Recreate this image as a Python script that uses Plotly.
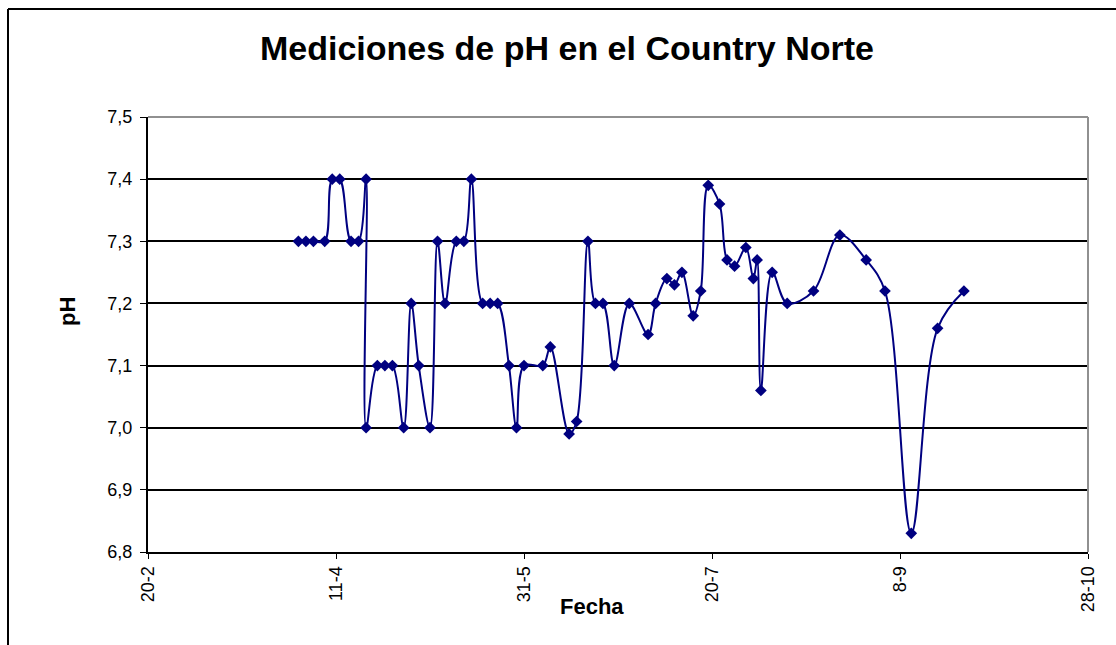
import plotly.graph_objects as go

# Measurement dates (2005 used only as a placeholder year) and pH values
fechas = [
    "2005-04-01", "2005-04-03", "2005-04-05", "2005-04-08", "2005-04-10", "2005-04-12",
    "2005-04-15", "2005-04-17", "2005-04-19", "2005-04-19", "2005-04-22", "2005-04-24",
    "2005-04-26", "2005-04-29", "2005-05-01", "2005-05-03", "2005-05-06", "2005-05-08",
    "2005-05-10", "2005-05-13", "2005-05-15", "2005-05-17", "2005-05-20", "2005-05-22",
    "2005-05-24", "2005-05-27", "2005-05-29", "2005-05-31", "2005-06-05", "2005-06-07",
    "2005-06-12", "2005-06-14", "2005-06-17", "2005-06-19", "2005-06-21", "2005-06-24",
    "2005-06-28", "2005-07-03", "2005-07-05", "2005-07-08", "2005-07-10", "2005-07-12",
    "2005-07-15", "2005-07-17", "2005-07-19", "2005-07-22", "2005-07-24", "2005-07-26",
    "2005-07-29", "2005-07-31", "2005-08-01", "2005-08-02", "2005-08-05", "2005-08-09",
    "2005-08-16", "2005-08-23", "2005-08-30", "2005-09-04", "2005-09-11", "2005-09-18",
    "2005-09-25",
]
ph = [
    7.30, 7.30, 7.30, 7.30, 7.40, 7.40,
    7.30, 7.30, 7.40, 7.00, 7.10, 7.10,
    7.10, 7.00, 7.20, 7.10, 7.00, 7.30,
    7.20, 7.30, 7.30, 7.40, 7.20, 7.20,
    7.20, 7.10, 7.00, 7.10, 7.10, 7.13,
    6.99, 7.01, 7.30, 7.20, 7.20, 7.10,
    7.20, 7.15, 7.20, 7.24, 7.23, 7.25,
    7.18, 7.22, 7.39, 7.36, 7.27, 7.26,
    7.29, 7.24, 7.27, 7.06, 7.25, 7.20,
    7.22, 7.31, 7.27, 7.22, 6.83, 7.16,
    7.22,
]

x_tick_vals = ["2005-02-20", "2005-04-11", "2005-05-31", "2005-07-20", "2005-09-08", "2005-10-28"]
x_tick_text = ["20-2", "11-4", "31-5", "20-7", "8-9", "28-10"]
y_tick_vals = [6.8, 6.9, 7.0, 7.1, 7.2, 7.3, 7.4, 7.5]
y_tick_text = ["6,8", "6,9", "7,0", "7,1", "7,2", "7,3", "7,4", "7,5"]

W, H = 1116, 645
L, R, T, B = 148, 28, 117, 93
pw, ph_ = W - L - R, H - T - B

font_family = "Liberation Sans, Arial, sans-serif"
navy = "#000080"

fig = go.Figure()
fig.add_trace(go.Scatter(
    x=fechas, y=ph, mode="lines+markers",
    line=dict(color=navy, width=2, shape="spline", smoothing=1.0),
    marker=dict(symbol="diamond", size=9, color=navy),
    showlegend=False,
))

def px_x(p):
    return (p - L) / pw

def px_y(p):
    return (H - B - p) / ph_

shapes = [
    dict(type="line", xref="paper", yref="paper", x0=0, x1=1, y0=1, y1=1,
         line=dict(color="#909090", width=2), layer="above"),
    dict(type="line", xref="paper", yref="paper", x0=1, x1=1, y0=0, y1=1,
         line=dict(color="#909090", width=2), layer="above"),
    dict(type="line", xref="paper", yref="paper", x0=px_x(8), x1=px_x(8),
         y0=px_y(9), y1=px_y(660), line=dict(color="black", width=2)),
    dict(type="line", xref="paper", yref="paper", x0=px_x(8), x1=px_x(1130),
         y0=px_y(9), y1=px_y(9), line=dict(color="black", width=2)),
]

annotations = [
    dict(text="<b>Fecha</b>", xref="paper", yref="paper", x=px_x(592), y=px_y(606),
         showarrow=False, font=dict(family=font_family, size=22, color="black"),
         xanchor="center", yanchor="middle"),
    dict(text="<b>pH</b>", xref="paper", yref="paper", x=px_x(67), y=px_y(312),
         showarrow=False, textangle=-90, font=dict(family=font_family, size=22, color="black"),
         xanchor="center", yanchor="middle"),
]

fig.update_layout(
    width=W, height=H,
    margin=dict(l=L, r=R, t=T, b=B),
    paper_bgcolor="white", plot_bgcolor="white",
    title=dict(text="<b>Mediciones de pH en el Country Norte</b>",
               x=567 / W, xanchor="center", y=1 - 48 / H, yanchor="middle",
               font=dict(family=font_family, size=34, color="black")),
    shapes=shapes, annotations=annotations,
    xaxis=dict(
        type="date", range=["2005-02-20", "2005-10-28"],
        tickvals=x_tick_vals, ticktext=x_tick_text, tickangle=-90,
        showgrid=False, zeroline=False,
        showline=True, linecolor="black", linewidth=2,
        ticks="outside", ticklen=5, tickcolor="black", tickwidth=1,
        tickfont=dict(family=font_family, size=18, color="black"),
    ),
    yaxis=dict(
        range=[6.8, 7.5], tickvals=y_tick_vals, ticktext=y_tick_text,
        showgrid=True, gridcolor="black", gridwidth=1.5, zeroline=False,
        showline=True, linecolor="black", linewidth=2,
        ticks="outside", ticklen=6, tickcolor="black", tickwidth=1,
        tickfont=dict(family=font_family, size=18, color="black"),
        ticklabelstandoff=4,
    ),
)

fig.write_html("out.html", config={"displayModeBar": False},
               post_script="document.body.style.margin='0';")
